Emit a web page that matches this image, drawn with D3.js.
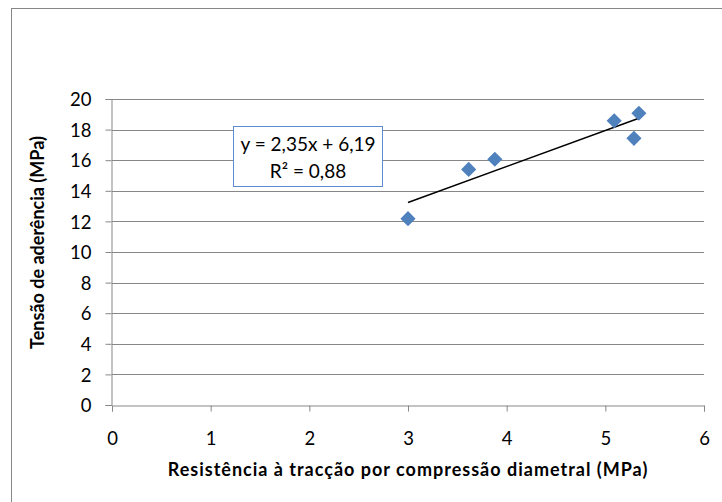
<!DOCTYPE html>
<html>
<head>
<meta charset="utf-8">
<script src="https://cdn.jsdelivr.net/npm/d3@7"></script>
<style>
  body { margin: 0; background: #fff; }
  svg text { font-family: Lato, "Open Sans", sans-serif; fill: #000; }
  .axis-title { font-weight: bold; }
</style>
</head>
<body>
<svg class="scatter" width="722" height="502"></svg>
<script>
// data
var tensile = [3.00, 3.615, 3.88, 5.09, 5.34, 5.29];      // x (MPa)
var bond = [12.18, 15.40, 16.06, 18.58, 19.07, 17.43];    // y (MPa)
var xTicks = [0, 1, 2, 3, 4, 5, 6];
var yTicks = [0, 2, 4, 6, 8, 10, 12, 14, 16, 18, 20];
var trendCoef = [2.35, 6.19];   // slope, intercept
var eqLines = ['y = 2,35x + 6,19', 'R\u00b2 = 0,88'];
var xTitle = 'Resistência à tracção por compressão diametral (MPa)';
var yTitle = 'Tensão de aderência (MPa)';

var svg = d3.select('svg.scatter');
var gridColor = '#878787';
var markColor = '#4f81bd';

// plot area
var plot = {l: 112, r: 704, t: 99, b: 405};

var xScale = d3.scaleLinear().domain([0, 6]).range([plot.l, plot.r]);
var yScale = d3.scaleLinear().domain([0, 20]).range([plot.b, plot.t]);

// chart area border (only top/left visible in window)
svg.append('rect')
    .attr('x', 11.5).attr('y', 8.5)
    .attr('width', 760).attr('height', 560)
    .attr('fill', 'none')
    .attr('stroke', gridColor)
    .attr('stroke-width', 1);

// horizontal gridlines
svg.append('g')
    .selectAll('line')
    .data(yTicks.slice(1))
    .enter().append('line')
    .attr('x1', plot.l).attr('x2', plot.r)
    .attr('y1', function(d) { return Math.round(yScale(d)) + 0.5; })
    .attr('y2', function(d) { return Math.round(yScale(d)) + 0.5; })
    .attr('stroke', gridColor);

// axes
var xAxisG = svg.append('g')
    .attr('transform', 'translate(0,' + (plot.b + 0.5) + ')')
    .call(d3.axisBottom(xScale).tickValues(xTicks).tickSize(6).tickPadding(20)
        .tickFormat(d3.format('d')));
var yAxisG = svg.append('g')
    .attr('transform', 'translate(' + (plot.l - 0.5) + ',0)')
    .call(d3.axisLeft(yScale).tickValues(yTicks).tickSize(6).tickPadding(14)
        .tickFormat(d3.format('d')));

[xAxisG, yAxisG].forEach(function(g) {
    g.select('.domain').attr('stroke', gridColor);
    g.selectAll('.tick line').attr('stroke', gridColor);
    g.selectAll('.tick text')
        .attr('fill', '#000')
        .style('font-size', '18.5px')
        .style('font-family', 'Lato, sans-serif');
});
yAxisG.selectAll('.tick text').attr('dy', '0.36em');
xAxisG.selectAll('.tick text').attr('dy', '0.71em');

// trend line over the x range of the data
var xr = d3.extent(tensile);
svg.append('line')
    .attr('x1', xScale(xr[0]))
    .attr('y1', yScale(trendCoef[0] * xr[0] + trendCoef[1]))
    .attr('x2', xScale(xr[1]))
    .attr('y2', yScale(trendCoef[0] * xr[1] + trendCoef[1]))
    .attr('stroke', '#000')
    .attr('stroke-width', 1.5);

// diamond markers
var diamond = d3.symbol().type(d3.symbolSquare).size(115);
svg.append('g')
    .selectAll('path')
    .data(tensile)
    .enter().append('path')
    .attr('d', diamond)
    .attr('fill', markColor)
    .attr('transform', function(d, i) {
        return 'translate(' + [xScale(d), yScale(bond[i])] + ') rotate(45)';
    });

// trendline equation box
var eqG = svg.append('g');
eqG.append('rect')
    .attr('x', 233.5).attr('y', 126.5)
    .attr('width', 149).attr('height', 60)
    .attr('fill', '#fff')
    .attr('stroke', '#5b8bd0')
    .attr('stroke-width', 1);
eqG.selectAll('text')
    .data(eqLines)
    .enter().append('text')
    .attr('x', 308)
    .attr('y', function(d, i) { return 151 + i * 26.5; })
    .attr('text-anchor', 'middle')
    .style('font-size', '19px')
    .text(function(d) { return d; });

// axis titles
svg.append('text')
    .attr('class', 'axis-title')
    .attr('x', (plot.l + plot.r) / 2)
    .attr('y', 476)
    .attr('text-anchor', 'middle')
    .style('font-size', '18px')
    .style('letter-spacing', '1px')
    .text(xTitle);

svg.append('text')
    .attr('class', 'axis-title')
    .attr('transform', 'translate(43.5,242.5) rotate(-90)')
    .attr('text-anchor', 'middle')
    .style('font-size', '18px')
    .text(yTitle);
</script>
</body>
</html>
